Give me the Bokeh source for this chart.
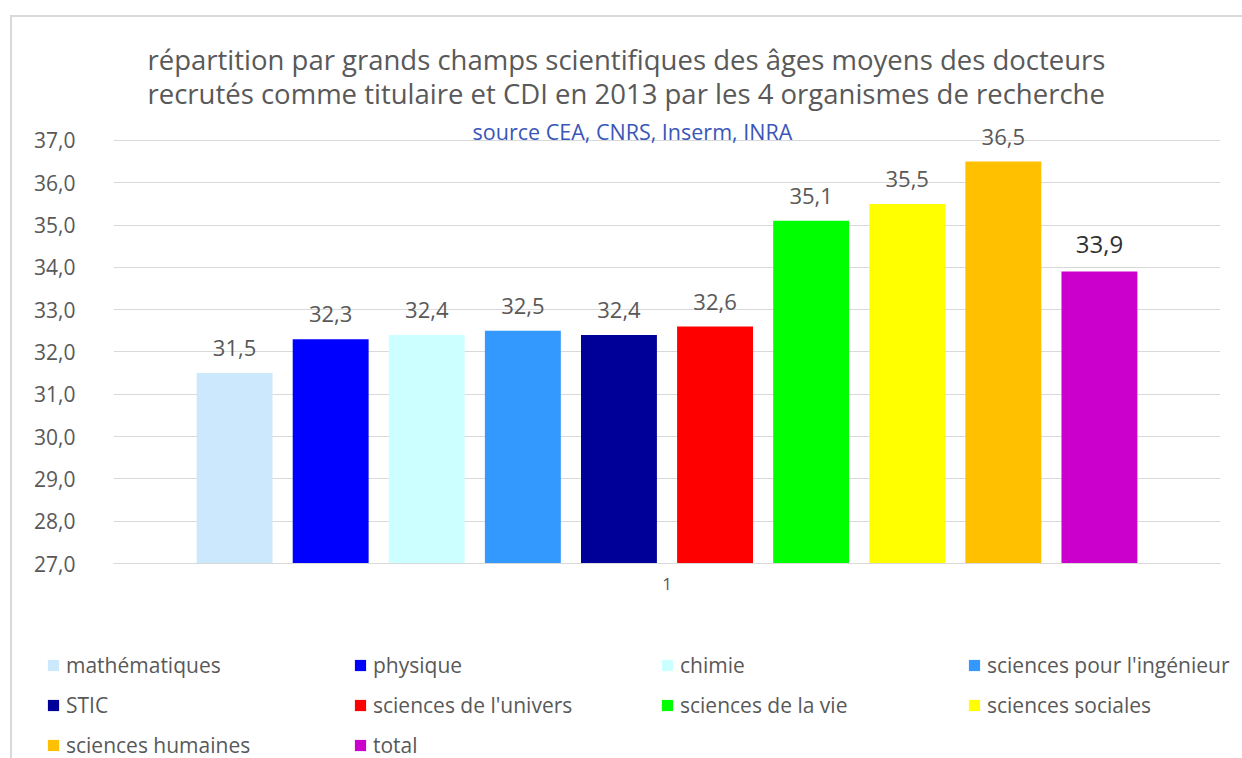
from bokeh.plotting import figure
from bokeh.layouts import column
from bokeh.models import (ColumnDataSource, FixedTicker, CustomJSTickFormatter, Range1d,
                          Legend, LegendItem, Label, Title)
from bokeh.core.properties import value
from bokeh.embed import file_html
from bokeh.resources import INLINE

# ---- data ----
categories = ["mathématiques", "physique", "chimie", "sciences pour l'ingénieur", "STIC",
              "sciences de l'univers", "sciences de la vie", "sciences sociales",
              "sciences humaines", "total"]
ages = [31.5, 32.3, 32.4, 32.5, 32.4, 32.6, 35.1, 35.5, 36.5, 33.9]
colors = ["#CCE8FC", "#0000FF", "#CCFFFF", "#3399FF", "#000099",
          "#FF0000", "#00FF00", "#FFFF00", "#FFC000", "#CC00CC"]
x_tick_labels = ["1"]
y_ticks = [27, 28, 29, 30, 31, 32, 33, 34, 35, 36, 37]
title_lines = ["répartition par grands champs scientifiques des âges moyens des docteurs",
               "recrutés comme titulaire et CDI en 2013 par les 4 organismes de recherche"]
subtitle = "source CEA, CNRS, Inserm, INRA"

FONT = "Open Sans"
GRAY = "#595959"
BORDER = "#D9D9D9"

n = len(categories)
xs = list(range(n))
labels = [f"{v:.1f}".replace(".", ",") for v in ages]
label_colors = ["#303030" if c == "total" else "#595959" for c in categories]
label_sizes = ["24px" if c == "total" else "22px" for c in categories]
label_offsets = [-27 if c == "total" else -25 for c in categories]

src = ColumnDataSource(dict(x=xs, top=ages, color=colors, name=categories,
                            label=labels, lc=label_colors, ls=label_sizes,
                            lo=label_offsets))

# ---------------- main chart ----------------
p = figure(width=1242, height=630, output_backend="svg", toolbar_location=None,
           x_range=Range1d(-1.26, n - 1 + 1.26), y_range=Range1d(27, 37.66),
           min_border_left=113, min_border_right=22, min_border_top=112,
           min_border_bottom=67)
p.frame_align = False
p.outline_line_color = None
p.background_fill_color = "white"
p.border_fill_color = None

r = p.vbar(x="x", top="top", bottom=y_ticks[0], width=0.79, fill_color="color",
           line_color=None, source=src)
p.text(x="x", y="top", text="label", text_color="lc", text_font_size="ls",
       text_font=value(FONT), text_align="center", text_baseline="middle",
       y_offset="lo", source=src)

# y axis
p.yaxis.ticker = FixedTicker(ticks=y_ticks)
p.yaxis.formatter = CustomJSTickFormatter(code="return tick.toFixed(1).replace('.', ',');")
p.yaxis.axis_line_color = None
p.yaxis.major_tick_line_color = None
p.yaxis.minor_tick_line_color = None
p.yaxis.major_tick_in = 0
p.yaxis.major_tick_out = 0
p.yaxis.major_label_standoff = 38
p.yaxis.major_label_text_font = FONT
p.yaxis.major_label_text_font_size = "21px"
p.yaxis.major_label_text_color = GRAY

# x axis
p.xaxis.ticker = FixedTicker(ticks=[(n - 1) / 2])
p.xaxis.formatter = CustomJSTickFormatter(args=dict(lbl=x_tick_labels[0]), code="return lbl;")
p.xaxis.axis_line_color = BORDER
p.xaxis.major_tick_line_color = None
p.xaxis.minor_tick_line_color = None
p.xaxis.major_tick_in = 0
p.xaxis.major_tick_out = 0
p.xaxis.major_label_standoff = 14
p.xaxis.major_label_text_font = FONT
p.xaxis.major_label_text_font_size = "17px"
p.xaxis.major_label_text_color = GRAY

p.xgrid.visible = False
p.ygrid.grid_line_color = BORDER
p.ygrid.grid_line_width = 1

# title (two lines) and source note
p.add_layout(Title(text="\n".join(title_lines), align="left", offset=34, standoff=0,
                   text_font=FONT, text_font_size="27.5px", text_font_style="normal",
                   text_color=GRAY, text_line_height=0.93), "above")
p.add_layout(Label(x=4.14, y=37.21, text=subtitle, text_align="center",
                   text_baseline="middle", text_font=FONT, text_font_size="21.5px",
                   text_color="#3A56B8"))

# ---------------- legend strip ----------------
p2 = figure(width=1242, height=128, output_backend="svg", toolbar_location=None,
            x_range=Range1d(-1000, -999), y_range=Range1d(0, 1),
            min_border_left=0, min_border_right=0, min_border_top=0, min_border_bottom=0)
p2.frame_align = False
p2.axis.visible = False
p2.grid.visible = False
p2.outline_line_color = None
p2.background_fill_color = None
p2.border_fill_color = None
r2 = p2.vbar(x="x", top="top", bottom=y_ticks[0], width=0.79, fill_color="color",
             line_color=None, source=src)

items = [LegendItem(label=c, renderers=[r2], index=i) for i, c in enumerate(categories)]
legend = Legend(items=items, location=(46, -7), orientation="horizontal", ncols=4,
                glyph_width=14, glyph_height=14, label_standoff=6, label_width=287,
                label_height=40, spacing=0, padding=0, margin=0,
                background_fill_alpha=0, border_line_color=None,
                label_text_font=FONT, label_text_font_size="21px",
                label_text_color=GRAY)
p2.add_layout(legend)

layout = column(p, p2, spacing=0)
# light chart-area border (left and top edges), drawn behind the transparent canvases
layout.styles = {
    "background-color": "white",
    "background-image": f"linear-gradient({BORDER},{BORDER}), linear-gradient({BORDER},{BORDER})",
    "background-size": "2px 743px, 1232px 2px",
    "background-position": "10px 15px, 10px 15px",
    "background-repeat": "no-repeat",
}
open("out.html", "w").write(file_html(layout, INLINE))
